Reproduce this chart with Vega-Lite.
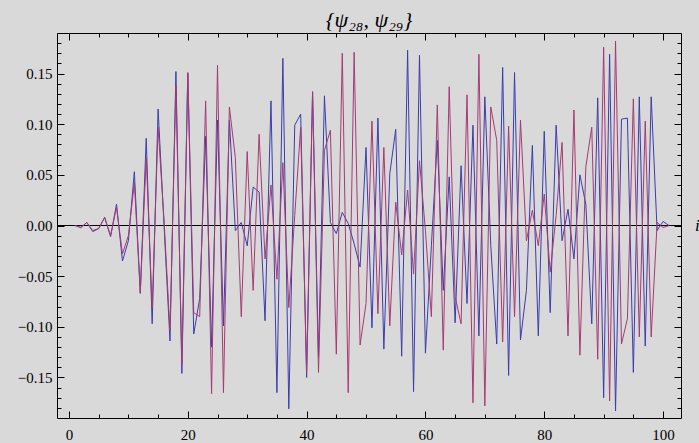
{
  "$schema": "https://vega.github.io/schema/vega-lite/v6.json",
  "width": 624,
  "height": 385,
  "autosize": "none",
  "padding": {"left": 57, "top": 33, "right": 18, "bottom": 25},
  "background": "#d9d9d9",
  "title": {"text": "{ψ₂₈, ψ₂₉}", "font": "Times New Roman, Liberation Serif, DejaVu Serif, serif", "fontSize": 22, "fontStyle": "italic", "fontWeight": "normal", "color": "#000000", "offset": 1, "anchor": "middle"},
  "config": {
    "view": {"stroke": "#000000", "strokeWidth": 1},
    "axis": {"grid": false, "domain": false, "tickColor": "#000000", "tickWidth": 1, "labelColor": "#000000", "labelFont": "Times New Roman, Liberation Serif, DejaVu Serif, serif", "labelFontSize": 15, "title": null}
  },
  "data": {"values": [
    {"i":1,"a":0,"b":0},{"i":2,"a":-0.002,"b":-0.002},{"i":3,"a":0.003,"b":0.003},{"i":4,"a":-0.006,"b":-0.005},{"i":5,"a":-0.003,"b":-0.003},
    {"i":6,"a":0.008,"b":0.008},{"i":7,"a":-0.011,"b":-0.010},{"i":8,"a":0.021,"b":0.018},{"i":9,"a":-0.035,"b":-0.028},{"i":10,"a":-0.015,"b":-0.010},
    {"i":11,"a":0.053,"b":0.042},{"i":12,"a":-0.067,"b":-0.066},{"i":13,"a":0.086,"b":0.067},{"i":14,"a":-0.097,"b":-0.081},{"i":15,"a":0.115,"b":0.097},
    {"i":16,"a":0.000,"b":0.005},{"i":17,"a":-0.114,"b":-0.104},{"i":18,"a":0.152,"b":0.138},{"i":19,"a":-0.146,"b":-0.137},{"i":20,"a":0.150,"b":0.151},
    {"i":21,"a":-0.107,"b":-0.086},{"i":22,"a":-0.072,"b":-0.090},{"i":23,"a":0.088,"b":0.123},{"i":24,"a":-0.120,"b":-0.166},{"i":25,"a":0.104,"b":0.158},
    {"i":26,"a":-0.099,"b":-0.165},{"i":27,"a":0.104,"b":0.117},{"i":28,"a":-0.005,"b":0.067},{"i":29,"a":0.003,"b":-0.090},{"i":30,"a":-0.020,"b":0.073},
    {"i":31,"a":0.038,"b":-0.064},{"i":32,"a":0.033,"b":0.090},{"i":33,"a":-0.094,"b":-0.033},{"i":34,"a":0.123,"b":0.040},{"i":35,"a":-0.165,"b":-0.053},
    {"i":36,"a":0.165,"b":0.062},{"i":37,"a":-0.181,"b":-0.081},{"i":38,"a":0.099,"b":0.010},{"i":39,"a":0.110,"b":0.097},{"i":40,"a":-0.150,"b":-0.145},
    {"i":41,"a":0.132,"b":0.132},{"i":42,"a":-0.130,"b":-0.145},{"i":43,"a":0.128,"b":0.074},{"i":44,"a":0.003,"b":0.094},{"i":45,"a":-0.008,"b":-0.127},
    {"i":46,"a":0.013,"b":0.170},{"i":47,"a":0.002,"b":-0.165},{"i":48,"a":-0.018,"b":0.171},{"i":49,"a":-0.041,"b":-0.118},{"i":50,"a":0.077,"b":-0.077},
    {"i":51,"a":-0.101,"b":0.103},{"i":52,"a":0.106,"b":-0.087},{"i":53,"a":-0.122,"b":0.077},{"i":54,"a":0.051,"b":-0.099},{"i":55,"a":0.095,"b":0.023},
    {"i":56,"a":-0.129,"b":-0.029},{"i":57,"a":0.173,"b":0.035},{"i":58,"a":-0.164,"b":-0.048},{"i":59,"a":0.168,"b":0.064},{"i":60,"a":-0.126,"b":-0.005},
    {"i":61,"a":-0.020,"b":-0.090},{"i":62,"a":0.084,"b":0.119},{"i":63,"a":-0.064,"b":-0.123},{"i":64,"a":0.048,"b":0.137},{"i":65,"a":-0.096,"b":-0.070},
    {"i":66,"a":0.059,"b":-0.097},{"i":67,"a":-0.077,"b":0.129},{"i":68,"a":0.099,"b":-0.175},{"i":69,"a":-0.109,"b":0.169},{"i":70,"a":0.127,"b":-0.178},
    {"i":71,"a":-0.020,"b":0.117},{"i":72,"a":-0.117,"b":0.084},{"i":73,"a":0.156,"b":-0.115},{"i":74,"a":-0.148,"b":0.098},{"i":75,"a":0.151,"b":-0.090},
    {"i":76,"a":-0.113,"b":0.104},{"i":77,"a":-0.064,"b":-0.015},{"i":78,"a":0.079,"b":0.015},{"i":79,"a":-0.109,"b":-0.020},{"i":80,"a":0.093,"b":0.031},
    {"i":81,"a":-0.086,"b":-0.046},{"i":82,"a":0.099,"b":0.010},{"i":83,"a":-0.015,"b":0.082},{"i":84,"a":0.016,"b":-0.109},{"i":85,"a":-0.033,"b":0.114},
    {"i":86,"a":0.050,"b":-0.128},{"i":87,"a":0.021,"b":0.058},{"i":88,"a":-0.097,"b":0.097},{"i":89,"a":0.126,"b":-0.132},{"i":90,"a":-0.170,"b":0.176},
    {"i":91,"a":0.169,"b":-0.173},{"i":92,"a":-0.183,"b":0.182},{"i":93,"a":0.105,"b":-0.117},{"i":94,"a":0.106,"b":-0.092},{"i":95,"a":-0.145,"b":0.125},
    {"i":96,"a":0.127,"b":-0.110},{"i":97,"a":-0.119,"b":0.103},{"i":98,"a":0.127,"b":-0.110},{"i":99,"a":-0.005,"b":0.003},{"i":100,"a":0.004,"b":-0.002},
    {"i":101,"a":0.000,"b":0.000}
  ]},
  "transform": [{"fold": ["a", "b"], "as": ["s", "v"]}],
  "layer": [
    {
      "mark": {"type": "rule", "color": "#000000", "strokeWidth": 1},
      "encoding": {
        "y": {"datum": 0, "type": "quantitative", "scale": {"domain": [-0.19, 0.19], "nice": false, "zero": false}, "axis": null}
      }
    },
    {
      "mark": {"type": "line", "strokeWidth": 1},
      "encoding": {
        "x": {"field": "i", "type": "quantitative", "scale": {"domain": [-2.02, 103.02], "nice": false, "zero": false},
              "axis": {"orient": "bottom", "values": [0, 20, 40, 60, 80, 100], "format": "d", "tickSize": -7, "labelPadding": 16}},
        "y": {"field": "v", "type": "quantitative", "scale": {"domain": [-0.19, 0.19], "nice": false, "zero": false},
              "axis": {"orient": "left", "values": [-0.15, -0.1, -0.05, 0, 0.05, 0.1, 0.15], "format": ".2f", "tickSize": -7, "labelPadding": 12}},
        "color": {"field": "s", "type": "nominal", "scale": {"domain": ["a", "b"], "range": ["#3c3cac", "#a53a74"]}, "legend": null}
      }
    },
    {
      "mark": {"type": "line", "opacity": 0},
      "encoding": {
        "x": {"field": "i", "type": "quantitative", "scale": {"domain": [-2.02, 103.02], "nice": false, "zero": false},
              "axis": {"orient": "bottom", "values": [0,5,10,15,20,25,30,35,40,45,50,55,60,65,70,75,80,85,90,95,100], "labels": false, "tickSize": -4}},
        "y": {"field": "v", "type": "quantitative", "scale": {"domain": [-0.19, 0.19], "nice": false, "zero": false},
              "axis": {"orient": "left", "values": [-0.18,-0.17,-0.16,-0.15,-0.14,-0.13,-0.12,-0.11,-0.1,-0.09,-0.08,-0.07,-0.06,-0.05,-0.04,-0.03,-0.02,-0.01,0,0.01,0.02,0.03,0.04,0.05,0.06,0.07,0.08,0.09,0.1,0.11,0.12,0.13,0.14,0.15,0.16,0.17,0.18], "labels": false, "tickSize": -4}},
        "detail": {"field": "s"}
      }
    },
    {
      "mark": {"type": "line", "opacity": 0},
      "encoding": {
        "x": {"field": "i", "type": "quantitative", "scale": {"domain": [-2.02, 103.02], "nice": false, "zero": false},
              "axis": {"orient": "top", "values": [0, 20, 40, 60, 80, 100], "labels": false, "tickSize": -7}},
        "y": {"field": "v", "type": "quantitative", "scale": {"domain": [-0.19, 0.19], "nice": false, "zero": false},
              "axis": {"orient": "right", "values": [-0.15, -0.1, -0.05, 0, 0.05, 0.1, 0.15], "labels": false, "tickSize": -7,
                       "title": "i", "titleAngle": 0, "titleAlign": "left", "titleBaseline": "middle", "titleFont": "Times New Roman, Liberation Serif, DejaVu Serif, serif", "titleFontStyle": "italic", "titleFontWeight": "normal", "titleFontSize": 17, "titleColor": "#000000", "titlePadding": 13}},
        "detail": {"field": "s"}
      }
    },
    {
      "mark": {"type": "line", "opacity": 0},
      "encoding": {
        "x": {"field": "i", "type": "quantitative", "scale": {"domain": [-2.02, 103.02], "nice": false, "zero": false},
              "axis": {"orient": "top", "values": [0,5,10,15,20,25,30,35,40,45,50,55,60,65,70,75,80,85,90,95,100], "labels": false, "tickSize": -4}},
        "y": {"field": "v", "type": "quantitative", "scale": {"domain": [-0.19, 0.19], "nice": false, "zero": false},
              "axis": {"orient": "right", "values": [-0.18,-0.17,-0.16,-0.15,-0.14,-0.13,-0.12,-0.11,-0.1,-0.09,-0.08,-0.07,-0.06,-0.05,-0.04,-0.03,-0.02,-0.01,0,0.01,0.02,0.03,0.04,0.05,0.06,0.07,0.08,0.09,0.1,0.11,0.12,0.13,0.14,0.15,0.16,0.17,0.18], "labels": false, "tickSize": -4}},
        "detail": {"field": "s"}
      }
    }
  ],
  "resolve": {"axis": {"x": "independent", "y": "independent"}}
}
